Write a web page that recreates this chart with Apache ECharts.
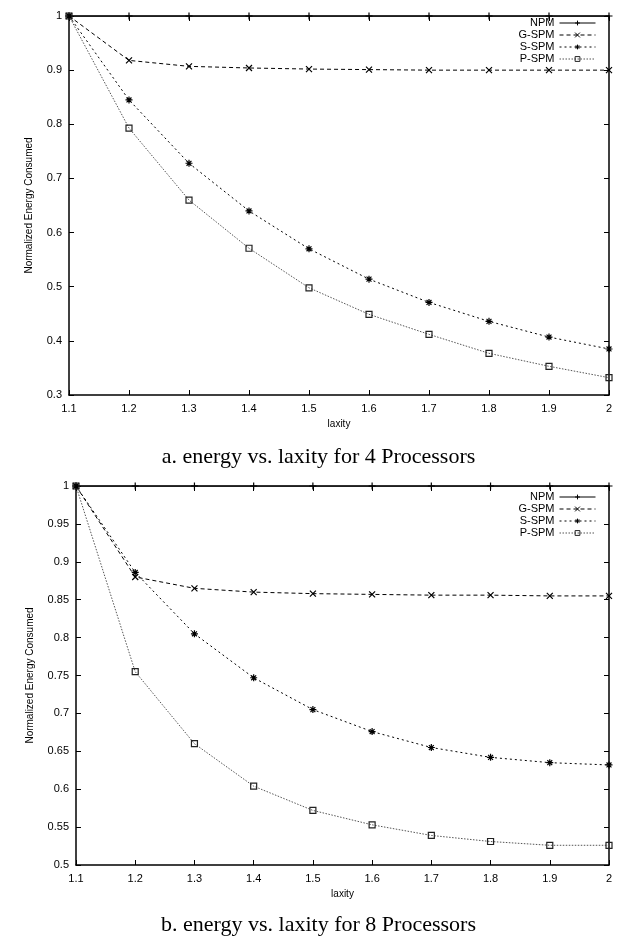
<!DOCTYPE html>
<html>
<head>
<meta charset="utf-8">
<script src="https://cdn.jsdelivr.net/npm/echarts@6/dist/echarts.min.js"></script>
<style>
  html, body { margin: 0; padding: 0; background: #fff; }
  #main { width: 637px; height: 940px; }
</style>
</head>
<body>
<div id="main"></div>
<script>
// laxity values on the x axis
var laxity = [1.1, 1.2, 1.3, 1.4, 1.5, 1.6, 1.7, 1.8, 1.9, 2.0];
var seriesNames = ['NPM', 'G-SPM', 'S-SPM', 'P-SPM'];

// a. 4 processors
var npm4  = [1, 1, 1, 1, 1, 1, 1, 1, 1, 1];
var gspm4 = [1, 0.918, 0.907, 0.904, 0.902, 0.901, 0.900, 0.900, 0.900, 0.900];
var sspm4 = [1, 0.845, 0.728, 0.640, 0.570, 0.514, 0.471, 0.436, 0.407, 0.385];
var pspm4 = [1, 0.793, 0.660, 0.571, 0.498, 0.449, 0.412, 0.377, 0.353, 0.332];

// b. 8 processors
var npm8  = [1, 1, 1, 1, 1, 1, 1, 1, 1, 1];
var gspm8 = [1, 0.880, 0.865, 0.860, 0.858, 0.857, 0.856, 0.856, 0.855, 0.855];
var sspm8 = [1, 0.886, 0.805, 0.747, 0.705, 0.676, 0.655, 0.642, 0.635, 0.632];
var pspm8 = [1, 0.755, 0.660, 0.604, 0.572, 0.553, 0.539, 0.531, 0.526, 0.526];

var captions = ['a. energy vs. laxity for 4 Processors', 'b. energy vs. laxity for 8 Processors'];

var sans = 'Liberation Sans';
var crossPath = 'path://M0,0L10,10M10,0L0,10';
var starPath = 'path://M0,5L10,5M5,0L5,10M1.5,1.5L8.5,8.5M8.5,1.5L1.5,8.5';
var plusPath = 'path://M0,5L10,5M5,0L5,10';
var boxPath = 'path://M0,0L10,0L10,10L0,10Z';

var styles = {
  'NPM':   { line: { color: '#000', width: 1, type: 'solid' }, symbol: plusPath, size: 7, border: '#000' },
  'G-SPM': { line: { color: '#000', width: 1, type: [4, 3] }, symbol: crossPath, size: 6, border: '#000' },
  'S-SPM': { line: { color: '#000', width: 1, type: [2, 3] }, symbol: starPath, size: 7, border: '#000' },
  'P-SPM': { line: { color: '#555', width: 1, type: [1.5, 1.5] }, symbol: boxPath, size: 6, border: '#222' }
};

function pairs(vals) {
  return laxity.map(function (x, i) { return [x, vals[i]]; });
}

function mkSeries(name, vals, g) {
  var s = styles[name];
  return {
    name: name,
    type: 'line',
    xAxisIndex: g * 2,
    yAxisIndex: g * 2,
    data: pairs(vals),
    symbol: s.symbol,
    symbolSize: s.size,
    showAllSymbol: true,
    lineStyle: s.line,
    itemStyle: { color: 'transparent', borderColor: s.border, borderWidth: 1.2 },
    emphasis: { disabled: true },
    animation: false,
    z: 3
  };
}

var axisLine = { show: true, onZero: false, lineStyle: { color: '#000', width: 1.5 } };
var tick = { show: true, inside: true, length: 5, lineStyle: { color: '#000' } };

function xAxes(g) {
  return [{
    type: 'value', gridIndex: g, min: 1.1, max: 2, interval: 0.1,
    name: 'laxity', nameLocation: 'middle', nameGap: 24,
    nameTextStyle: { color: '#000', fontFamily: sans, fontSize: 10 },
    axisLine: axisLine, axisTick: tick, splitLine: { show: false },
    axisLabel: { color: '#000', fontFamily: sans, fontSize: 11, margin: 8 }
  }, {
    type: 'value', gridIndex: g, position: 'top', min: 1.1, max: 2, interval: 0.1,
    axisLine: axisLine, axisTick: tick, splitLine: { show: false },
    axisLabel: { show: false }
  }];
}

function yAxes(g, min, step, gap) {
  return [{
    type: 'value', gridIndex: g, min: min, max: 1, interval: step,
    name: 'Normalized Energy Consumed', nameLocation: 'middle', nameRotate: 90, nameGap: gap,
    nameTextStyle: { color: '#000', fontFamily: sans, fontSize: 10 },
    axisLine: axisLine, axisTick: tick, splitLine: { show: false },
    axisLabel: { color: '#000', fontFamily: sans, fontSize: 11, margin: 7 }
  }, {
    type: 'value', gridIndex: g, position: 'right', min: min, max: 1, interval: step,
    axisLine: axisLine, axisTick: tick, splitLine: { show: false },
    axisLabel: { show: false }
  }];
}

function mkLegend(top) {
  return {
    orient: 'vertical', right: 36, top: top, align: 'right',
    itemWidth: 36, itemHeight: 6, itemGap: 0,
    textStyle: { color: '#000', fontFamily: sans, fontSize: 11, lineHeight: 12 },
    itemStyle: { color: 'transparent', borderWidth: 1 },
    lineStyle: { width: 1 },
    data: seriesNames,
    selectedMode: false
  };
}

var chart = echarts.init(document.getElementById('main'));

var option = {
  backgroundColor: '#fff',
  animation: false,
  title: [{
    text: captions[0], left: 'center', top: 441,
    textStyle: { fontFamily: 'Liberation Serif', fontSize: 22, fontWeight: 'normal', color: '#000' }
  }, {
    text: captions[1], left: 'center', top: 909,
    textStyle: { fontFamily: 'Liberation Serif', fontSize: 22, fontWeight: 'normal', color: '#000' }
  }],
  legend: [mkLegend(12), mkLegend(486)],
  grid: [
    { left: 69, right: 28, top: 16, height: 379 },
    { left: 76, right: 28, top: 486, height: 379 }
  ],
  xAxis: xAxes(0).concat(xAxes(1)),
  yAxis: yAxes(0, 0.3, 0.1, 35).concat(yAxes(1, 0.5, 0.05, 41)),
  series: [
    mkSeries('NPM', npm4, 0),
    mkSeries('G-SPM', gspm4, 0),
    mkSeries('S-SPM', sspm4, 0),
    mkSeries('P-SPM', pspm4, 0),
    mkSeries('NPM', npm8, 1),
    mkSeries('G-SPM', gspm8, 1),
    mkSeries('S-SPM', sspm8, 1),
    mkSeries('P-SPM', pspm8, 1)
  ]
};

chart.setOption(option);
</script>
</body>
</html>
